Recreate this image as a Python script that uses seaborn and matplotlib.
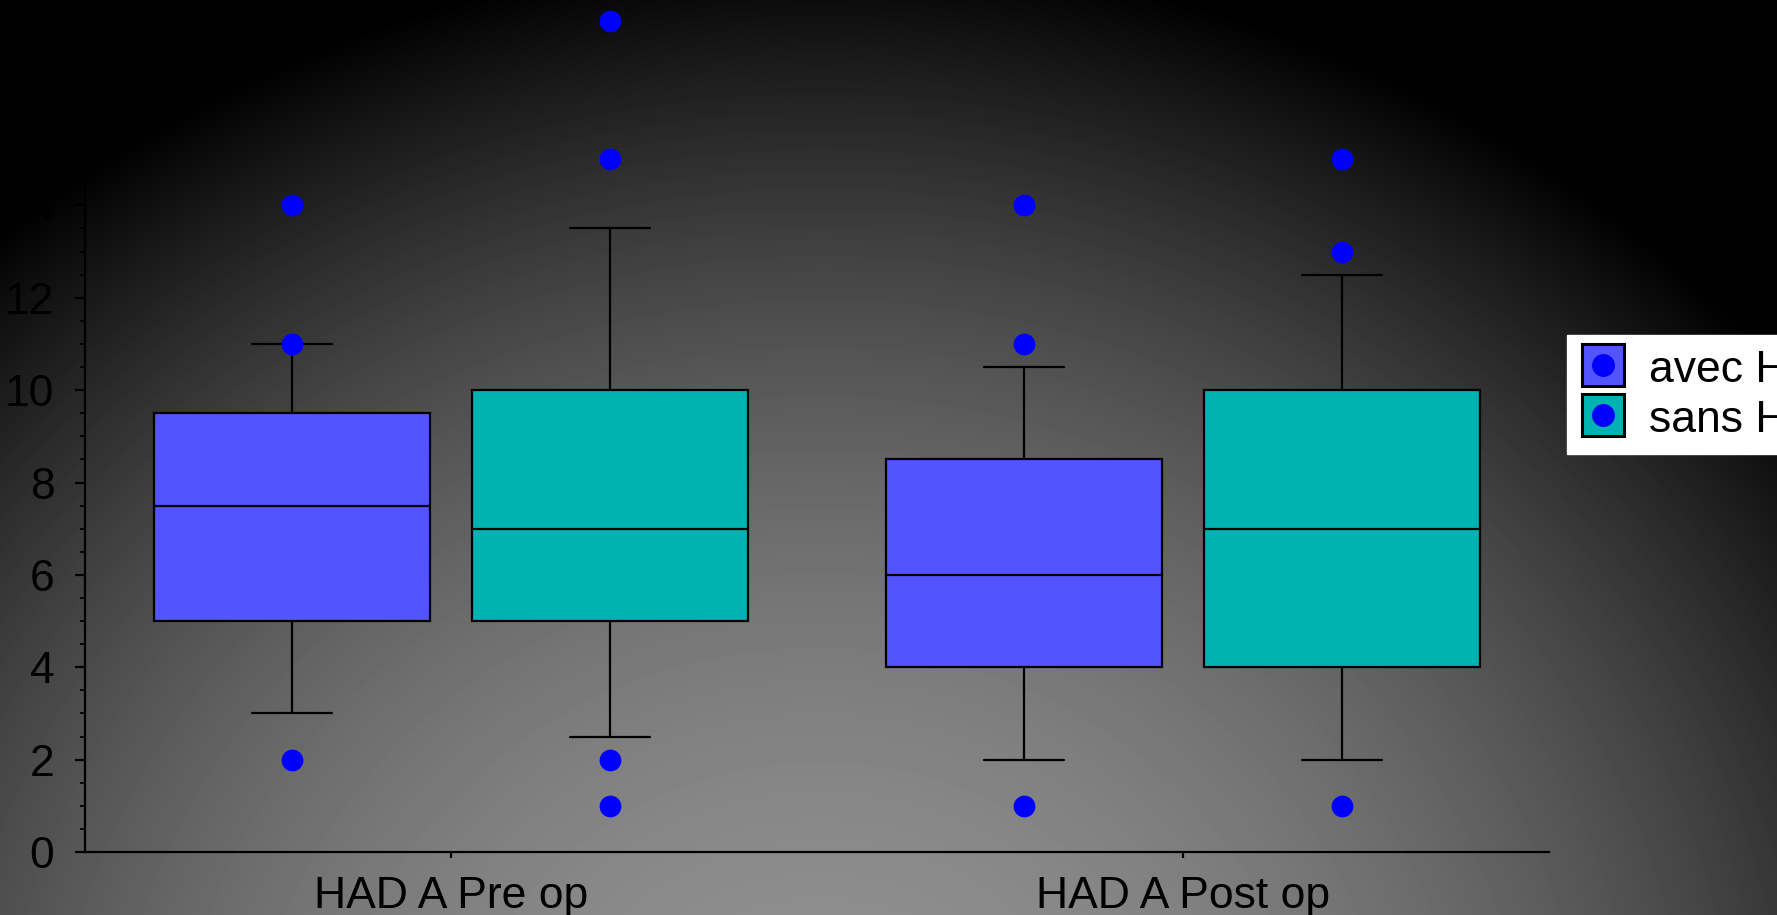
import numpy as np
import pandas as pd
import matplotlib
matplotlib.use("Agg")
import matplotlib.pyplot as plt
import seaborn as sns
from matplotlib.lines import Line2D
from matplotlib.legend_handler import HandlerTuple
from matplotlib.ticker import MultipleLocator

# ---------------- data ----------------
categories = ["HAD A Pre op", "HAD A Post op"]
groups = ["avec HTA", "sans HTA"]

q1_avec = [5.0, 4.0]
med_avec = [7.5, 6.0]
q3_avec = [9.5, 8.5]
whislo_avec = [3.0, 2.0]
whishi_avec = [11.0, 10.5]
fliers_avec = [[2, 11, 14], [1, 11, 14]]

q1_sans = [5.0, 4.0]
med_sans = [7.0, 7.0]
q3_sans = [10.0, 10.0]
whislo_sans = [2.5, 2.0]
whishi_sans = [13.5, 12.5]
fliers_sans = [[1, 2, 15, 18], [1, 13, 15]]

colors = {"avec HTA": "#5454FF", "sans HTA": "#00B3B3"}
flier_color = "#0000FF"

stats = {
    "avec HTA": (q1_avec, med_avec, q3_avec, whislo_avec, whishi_avec, fliers_avec),
    "sans HTA": (q1_sans, med_sans, q3_sans, whislo_sans, whishi_sans, fliers_sans),
}
offsets = {"avec HTA": -0.217, "sans HTA": 0.217}
box_w = 0.377

# ---------------- style ----------------
sns.set_theme(style="ticks")
plt.rcParams['font.family'] = ['Liberation Sans', 'DejaVu Sans']
FS = 32

W, H = 1777, 915
fig = plt.figure(figsize=(W / 100, H / 100), dpi=100)

# elliptical gradient background (bright near bottom centre, black at top)
bg = fig.add_axes([0, 0, 1, 1], zorder=-10)
yy, xx = np.mgrid[0:H, 0:W]
cx, cy = 820, 1100
r2 = ((xx - cx) / 1250.0) ** 2 + ((yy - cy) / 1150.0) ** 2
v = np.clip(1 - r2, 0, 1) * 145 / 255
bg.imshow(v, cmap='gray', vmin=0, vmax=1, aspect='auto', interpolation='bilinear')
bg.set_axis_off()

ax = fig.add_axes([85 / W, 1 - 852 / H, (1549 - 85) / W, (852 - 180) / H])
ax.set_facecolor('none')

# ---------------- boxes ----------------
rows = []
for g in groups:
    q1, med, q3, lo, hi, fl = stats[g]
    bstats = []
    pos = []
    for i, cat in enumerate(categories):
        bstats.append(dict(med=med[i], q1=q1[i], q3=q3[i], whislo=lo[i], whishi=hi[i], fliers=[]))
        pos.append(i + offsets[g])
        for f in fl[i]:
            rows.append(dict(pos=i + offsets[g], val=f, group=g))
    ax.bxp(bstats, positions=pos, widths=box_w, capwidths=0.109, patch_artist=True,
           showfliers=False, manage_ticks=False,
           boxprops=dict(facecolor=colors[g], edgecolor='black', linewidth=1.6),
           whiskerprops=dict(color='black', linewidth=1.6),
           capprops=dict(color='black', linewidth=1.6),
           medianprops=dict(color='black', linewidth=1.6))

df_fl = pd.DataFrame(rows)
sns.scatterplot(data=df_fl, x='pos', y='val', color=flier_color, s=245, linewidth=0,
                ax=ax, legend=False, clip_on=False, zorder=5)

# ---------------- axes ----------------
ax.set_xlim(-0.5, 1.5)
ax.set_ylim(0, 14.55)
ax.set_xticks(range(len(categories)))
ax.set_xticklabels(categories)
ax.set_yticks(np.arange(0, 15, 2))
ax.yaxis.set_minor_locator(MultipleLocator(0.5))
ax.set_xlabel('')
ax.set_ylabel('')
for s in ['top', 'right']:
    ax.spines[s].set_visible(False)
for s in ['left', 'bottom']:
    ax.spines[s].set_color('black')
    ax.spines[s].set_linewidth(1.6)
ax.tick_params(axis='y', which='major', length=7, width=1.6, direction='out',
               labelsize=FS, pad=15, colors='black')
ax.tick_params(axis='y', which='minor', length=3.5, width=1.3, direction='out', colors='black')
ax.tick_params(axis='x', which='major', length=4, width=1.6, direction='out',
               labelsize=FS, pad=13, colors='black')
ax.tick_params(axis='x', which='minor', length=0)

# ---------------- legend ----------------
handles = []
for g in groups:
    sq = Line2D([], [], marker='s', markersize=30, markerfacecolor=colors[g],
                markeredgecolor='black', markeredgewidth=2.2, linestyle='none')
    dot = Line2D([], [], marker='o', markersize=16.5, markerfacecolor=flier_color,
                 markeredgecolor='none', linestyle='none')
    handles.append((sq, dot))
leg = fig.legend(handles, groups, handler_map={tuple: HandlerTuple(ndivide=1)},
                 loc='upper left', bbox_to_anchor=(1567 / W, 1 - 335 / H),
                 frameon=True, fancybox=False, edgecolor='white', facecolor='white',
                 framealpha=1, fontsize=FS, handlelength=1.0, handleheight=0.9,
                 handletextpad=0.55, labelspacing=0.15, borderpad=0.3, borderaxespad=0)
for t in leg.get_texts():
    t.set_color('black')

fig.savefig('out.png', dpi=100)
